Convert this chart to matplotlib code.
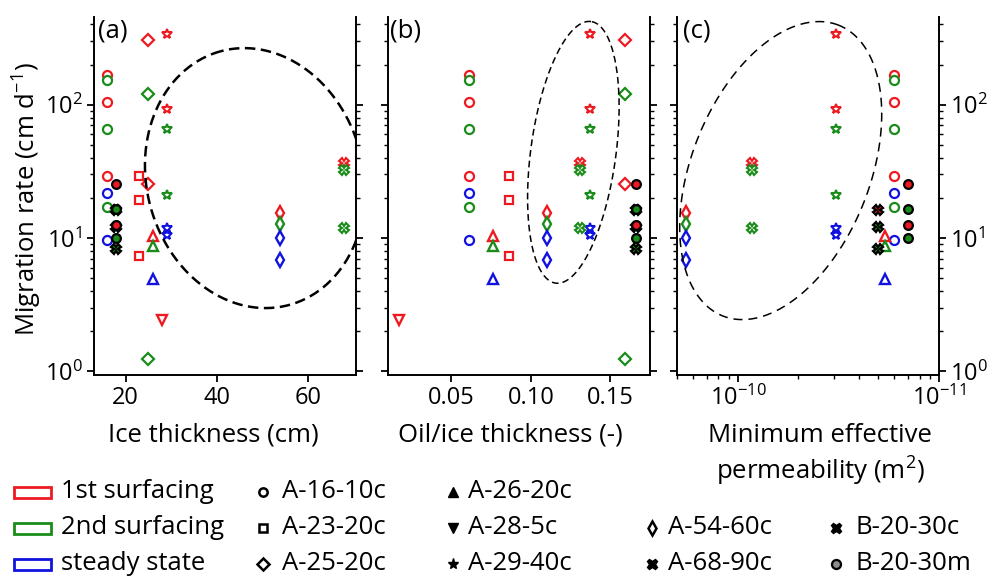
import numpy as np
import matplotlib
matplotlib.use("Agg")
import matplotlib.pyplot as plt
from matplotlib.lines import Line2D
from matplotlib.patches import Rectangle
from matplotlib.ticker import FuncFormatter, NullFormatter, FixedLocator, LogLocator

plt.rcParams['font.family'] = ['Open Sans', 'DejaVu Sans']
plt.rcParams['mathtext.fontset'] = 'custom'
plt.rcParams['mathtext.rm'] = 'Open Sans'
plt.rcParams['mathtext.it'] = 'Open Sans:italic'
plt.rcParams['mathtext.bf'] = 'Open Sans:bold'
plt.rcParams['axes.unicode_minus'] = False

# ---------------- data ----------------
experiments = ["A-16-10c", "A-23-20c", "A-25-20c", "A-26-20c", "A-28-5c",
               "A-29-40c", "A-54-60c", "A-68-90c", "B-20-30c", "B-20-30m"]
ice_thickness = [16, 23, 25, 26, 28, 29, 54, 68, 18, 18]                 # cm
oil_ice_ratio = [0.061, 0.086, 0.159, 0.076, 0.017,
                 0.137, 0.110, 0.131, 0.166, 0.166]                      # -
min_permeability = [1.68e-11, None, None, 1.85e-11, None,
                    3.26e-11, 1.81e-10, 8.5e-11, 2.0e-11, 1.43e-11]      # m^2

# migration rates (cm/d) for each surfacing phase
rate_1st = [[166, 104, 29], [29, 19.4, 7.3], [305, 25.4], [10.3], [2.42],
            [340, 93], [15.4], [36.8], [16.3], [25.4, 12.6]]
rate_2nd = [[154, 65.5, 17.2], [], [121, 1.24], [8.75], [],
            [66, 21], [12.7], [32.4, 11.9], [12.2, 8.3], [16.6, 10.1]]
rate_steady = [[21.8, 9.7], [], [], [4.92], [],
               [11.9, 10.6], [10.0, 6.87], [], [], []]

phase_names = ["1st surfacing", "2nd surfacing", "steady state"]
phase_colors = ["#ee1a22", "#1a8c1a", "#1212e0"]
phase_rates = [rate_1st, rate_2nd, rate_steady]

# marker, size, edge width, face mode ('open' = white face, 'fill' = phase colour with black edge)
styles = {
    "A-16-10c": ("o", 6.5, 1.6, "open"),
    "A-23-20c": ("s", 6.3, 1.6, "open"),
    "A-25-20c": ("D", 6.3, 1.6, "open"),
    "A-26-20c": ("^", 7.4, 1.7, "open"),
    "A-28-5c":  ("v", 7.4, 1.7, "open"),
    "A-29-40c": ("*", 7.0, 1.5, "open"),
    "A-54-60c": ("d", 7.5, 1.7, "open"),
    "A-68-90c": ("X", 6.5, 1.5, "open"),
    "B-20-30c": ("X", 6.8, 1.6, "fill"),
    "B-20-30m": ("o", 6.3, 1.6, "fill"),
}

W_FIG, H_FIG = 990, 581
fig = plt.figure(figsize=(W_FIG / 100, H_FIG / 100), dpi=100)

AX_TOP, AX_BOT, AX_W = 17, 375, 262.5
lefts = [93.5, 387.5, 676.5]
axes = [fig.add_axes([l / W_FIG, (H_FIG - AX_BOT) / H_FIG, AX_W / W_FIG,
                      (AX_BOT - AX_TOP) / H_FIG]) for l in lefts]

TICK_FS = 17
LABEL_FS = 18.5

x_sources = [ice_thickness, oil_ice_ratio,
             [None if k is None else 1.0 / k for k in min_permeability]]


def draw_points(ax, xs):
    for i, name in enumerate(experiments):
        if xs[i] is None:
            continue
        marker, ms, mew, mode = styles[name]
        for color, rates in zip(phase_colors, phase_rates):
            vals = rates[i]
            if not vals:
                continue
            if mode == "open":
                mfc, mec = "white", color
            else:
                mfc, mec = color, "black"
            ax.plot([xs[i]] * len(vals), vals, ls="none", marker=marker,
                    ms=ms, mew=mew, mfc=mfc, mec=mec)


def dashed_ellipse(ax, cx, cy, a, b, ang, lw, dashes):
    """Dashed ellipse; centre in axes fraction, semi-axes in pixels."""
    pos = ax.get_position()
    w = pos.width * W_FIG
    h = pos.height * H_FIG
    t = np.linspace(0, 2 * np.pi, 400)
    phi = np.deg2rad(ang)
    dx = a * np.cos(t) * np.cos(phi) - b * np.sin(t) * np.sin(phi)
    dy = a * np.cos(t) * np.sin(phi) + b * np.sin(t) * np.cos(phi)
    ax.plot(cx + dx / w, cy + dy / h, transform=ax.transAxes, color="k",
            lw=lw, ls=(0, dashes), clip_on=True)


for ax, xs in zip(axes, x_sources):
    draw_points(ax, xs)
    ax.set_yscale("log")
    ax.set_ylim(0.94, 455)
    ax.spines["top"].set_visible(False)
    for s in ("left", "right", "bottom"):
        ax.spines[s].set_linewidth(1.4)
    ax.yaxis.set_ticks_position("both")
    ax.tick_params(which="major", direction="out", length=5, width=1.3,
                   labelsize=TICK_FS, pad=3)
    ax.tick_params(which="minor", direction="out", length=3, width=1.0)
    ax.tick_params(axis="x", which="both", top=False)
    ax.yaxis.set_minor_formatter(NullFormatter())
    ax.tick_params(axis="y", labelleft=False, labelright=False)

# (a) ice thickness
axes[0].set_xlim(12.96, 70.6)
axes[0].xaxis.set_major_locator(FixedLocator([20, 40, 60]))
axes[0].tick_params(axis="y", labelleft=True)

# (b) oil / ice thickness
axes[1].set_xlim(0.0098, 0.175)
axes[1].xaxis.set_major_locator(FixedLocator([0.05, 0.10, 0.15]))
axes[1].xaxis.set_major_formatter(FuncFormatter(lambda v, p: f"{v:.2f}"))

# (c) permeability, plotted as reciprocal so high permeability is on the left
axc = axes[2]
axc.set_xscale("log")
axc.set_xlim(4.95e9, 1.0e11)
axc.xaxis.set_major_locator(LogLocator(base=10))
axc.xaxis.set_minor_locator(LogLocator(base=10, subs=np.arange(2, 10)))
axc.xaxis.set_major_formatter(FuncFormatter(
    lambda u, p: r"$\mathdefault{10^{%d}}$" % (-int(round(np.log10(u))))))
axc.xaxis.set_minor_formatter(NullFormatter())
axc.tick_params(axis="y", labelright=True)

# highlighted groups
dashed_ellipse(axes[0], 0.615, 0.550, 131.4, 108.3, 105, 1.8, (4.2, 2.2))
dashed_ellipse(axes[1], 0.708, 0.622, 132.0, 42.6, 82.3, 1.1, (4.4, 2.6))
dashed_ellipse(axes[2], 0.397, 0.571, 156.5, 89.0, 68.2, 1.1, (5.9, 3.9))

for ax, lab, xo in zip(axes, ["(a)", "(b)", "(c)"], [0.018, 0.01, 0.026]):
    ax.text(xo, 0.995, lab, transform=ax.transAxes, ha="left", va="top",
            fontsize=LABEL_FS)


def fx(px):
    return px / W_FIG


def fy(py):
    return 1 - py / H_FIG


fig.text(fx(27), fy(199), "Migration rate (cm d$^{-1}$)", rotation=90,
         ha="center", va="center", fontsize=LABEL_FS)
fig.text(fx(213), fy(435), "Ice thickness (cm)", ha="center", va="center",
         fontsize=LABEL_FS)
fig.text(fx(510), fy(435), "Oil/ice thickness (-)", ha="center", va="center",
         fontsize=LABEL_FS)
fig.text(fx(820), fy(435), "Minimum effective", ha="center", va="center",
         fontsize=LABEL_FS)
fig.text(fx(820), fy(471), "permeability (m$^2$)", ha="center", va="center",
         fontsize=LABEL_FS)

# ---------------- legend ----------------
rows = [492, 528, 564]
for name, color, ry in zip(phase_names, phase_colors, rows):
    fig.add_artist(Rectangle((fx(14), fy(ry + 5.5)), 37 / W_FIG, 11 / H_FIG,
                             transform=fig.transFigure, fill=False,
                             edgecolor=color, lw=2.0))
    fig.text(fx(61), fy(ry), name, ha="left", va="center", fontsize=LABEL_FS)

legend_marks = {
    "A-16-10c": dict(marker="o", ms=6, mew=1.8, mfc="white"),
    "A-23-20c": dict(marker="s", ms=6, mew=1.8, mfc="white"),
    "A-25-20c": dict(marker="D", ms=6, mew=1.8, mfc="white"),
    "A-26-20c": dict(marker="^", ms=7, mew=1.0, mfc="black"),
    "A-28-5c":  dict(marker="v", ms=7, mew=1.0, mfc="black"),
    "A-29-40c": dict(marker="*", ms=8, mew=1.0, mfc="black"),
    "A-54-60c": dict(marker="d", ms=7.5, mew=1.8, mfc="white"),
    "A-68-90c": dict(marker="X", ms=7.5, mew=1.0, mfc="black"),
    "B-20-30c": dict(marker="X", ms=7.5, mew=1.0, mfc="black"),
    "B-20-30m": dict(marker="o", ms=6.5, mew=1.6, mfc="#8c8c8c"),
}
legend_layout = [
    ("A-16-10c", 263, 282, 0), ("A-23-20c", 263, 282, 1), ("A-25-20c", 263, 282, 2),
    ("A-26-20c", 453, 468, 0), ("A-28-5c", 453, 468, 1), ("A-29-40c", 453, 468, 2),
    ("A-54-60c", 652, 668, 1), ("A-68-90c", 652, 668, 2),
    ("B-20-30c", 836, 855, 1), ("B-20-30m", 836, 855, 2),
]
for name, mx, tx, r in legend_layout:
    kw = legend_marks[name]
    fig.add_artist(Line2D([fx(mx)], [fy(rows[r])], transform=fig.transFigure,
                          ls="none", mec="black", **kw))
    fig.text(fx(tx), fy(rows[r]), name, ha="left", va="center",
             fontsize=LABEL_FS)

fig.savefig("out.png", dpi=100)
